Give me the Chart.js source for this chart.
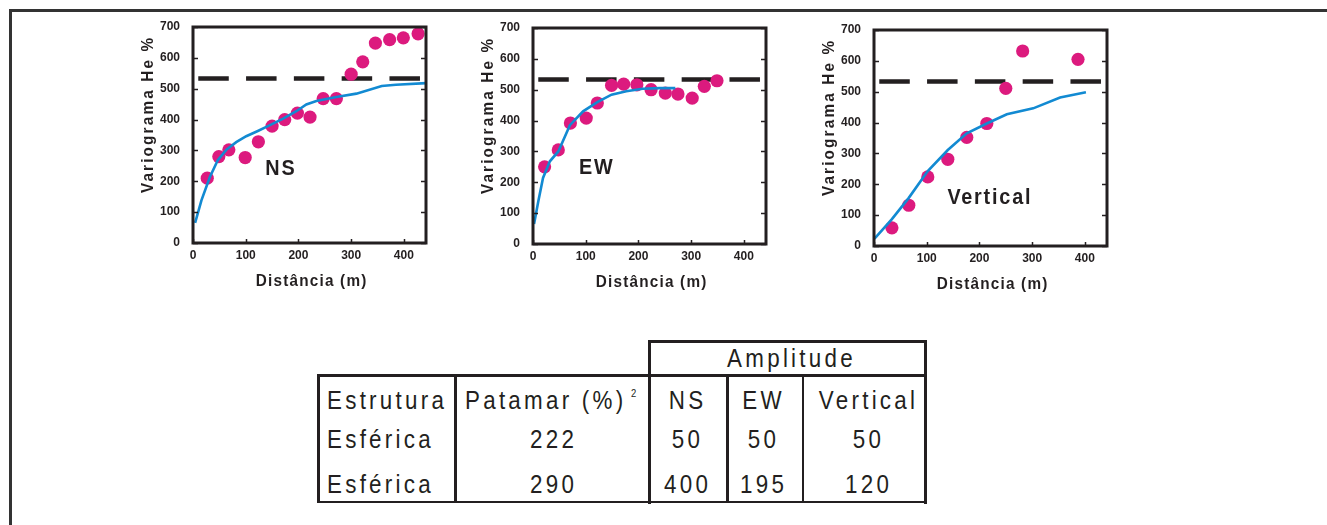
<!DOCTYPE html>
<html lang="pt">
<head>
<meta charset="utf-8">
<title>Variogramas de He</title>
<script src="https://cdn.jsdelivr.net/npm/chart.js@4/dist/chart.umd.min.js"></script>
<style>
  html, body { margin: 0; padding: 0; background: #fff; }
  body { width: 1327px; height: 525px; position: relative; overflow: hidden; }
  canvas { position: absolute; }
  .rule { position: absolute; background: #231f20; }
  .frame { position: absolute; background: #333; }
  .cell {
    position: absolute; font-family: "Liberation Sans", Arial, sans-serif;
    font-size: 26px; line-height: 26px; letter-spacing: 3.8px;
    color: #231f20; white-space: nowrap;
    transform: scaleX(0.86); transform-origin: 0 0;
  }
  .cell.mid { text-align: center; transform-origin: 50% 0; }
  .sup { font-size: 11px; line-height: 11px; letter-spacing: 0; }
</style>
</head>
<body>
<div class="frame" style="left:9px;top:9px;width:1318px;height:2.5px"></div>
<div class="frame" style="left:9px;top:9px;width:2.5px;height:516px"></div>

<canvas id="cNS" width="303" height="287" style="left:133px;top:6px"></canvas>
<canvas id="cEW" width="303" height="287" style="left:473px;top:7px"></canvas>
<canvas id="cV"  width="303" height="287" style="left:814px;top:9px"></canvas>

<div id="table"></div>

<script>
// ---- axis ticks shared by the three variograms ----
const xTickValues = [0, 100, 200, 300, 400];
const yTickValues = [0, 100, 200, 300, 400, 500, 600, 700];
const xMax = 442;
const yMax = 700;

// dashed sill reference
const sillLevel = 533;
const sillStart = 10;
const sillEnd = 431;

// ---- NS direction: experimental points and fitted model ----
const nsLag   = [27, 49, 68, 99, 124, 150, 174, 198, 222, 247, 272, 300, 322, 346, 373, 399, 427];
const nsGamma = [210, 280, 302, 277, 328, 379, 400, 421, 408, 468, 468, 547, 587, 648, 659, 665, 678];
const nsModelLag   = [4, 16, 32, 47, 63, 82, 101, 123, 145, 171, 196, 215, 234, 272, 310, 358, 385, 442];
const nsModelGamma = [65, 138, 214, 268, 302, 327, 346, 363, 381, 403, 427, 449, 460, 473, 484, 509, 513, 518];

// ---- EW direction ----
const ewLag   = [22, 48, 71, 101, 122, 149, 172, 197, 224, 251, 275, 302, 325, 349];
const ewGamma = [250, 305, 392, 408, 457, 514, 518, 516, 500, 489, 486, 473, 511, 529];
const ewModelLag   = [2, 10, 19, 32, 48, 70, 95, 122, 149, 177, 208, 240, 270];
const ewModelGamma = [65, 138, 214, 268, 300, 385, 430, 460, 484, 495, 503, 505, 505];

// ---- Vertical direction ----
const vLag   = [34, 66, 102, 140, 176, 214, 250, 282, 387];
const vGamma = [59, 132, 224, 281, 352, 397, 511, 632, 605];
const vModelLag   = [1, 34, 66, 102, 140, 176, 214, 252, 302, 353, 402];
const vModelGamma = [24, 87, 156, 243, 311, 365, 397, 427, 446, 481, 498];

// ---- structure table ----
const tableGroup = 'Amplitude';
const tableHeaders = ['Estrutura', 'Patamar (%)', 'NS', 'EW', 'Vertical'];
const structureType = ['Esférica', 'Esférica'];
const sillValues = [222, 290];
const rangeNS = [50, 400];
const rangeEW = [50, 195];
const rangeVertical = [50, 120];

const INK = '#231f20';
const DOT = '#dc1a7e';
const MODEL = '#128ad2';
const FONT = '"Liberation Sans", Arial, sans-serif';

const toXY = (xs, ys) => xs.map((x, i) => ({ x, y: ys[i] }));

// narrow, widely tracked text like the rest of the figure
function condensedText(ctx, str, x, y, size, spacing, angle) {
  ctx.save();
  ctx.translate(x, y);
  if (angle) ctx.rotate(angle);
  ctx.scale(0.9, 1);
  ctx.font = 'bold ' + size + 'px ' + FONT;
  ctx.letterSpacing = spacing + 'px';
  ctx.textAlign = 'center';
  ctx.textBaseline = 'middle';
  ctx.fillText(str, spacing / 2, 0);
  ctx.restore();
}

// frame, inward tick marks, axis titles and the direction label
const decorPlugin = {
  id: 'decor',
  afterDraw(chart, args, opts) {
    const { ctx, chartArea: a, scales } = chart;
    const sx = scales.x, sy = scales.y;
    ctx.save();
    ctx.strokeStyle = INK;
    ctx.lineWidth = 1.5;
    ctx.beginPath();
    yTickValues.forEach(v => {
      const py = Math.round(sy.getPixelForValue(v)) + 0.5;
      ctx.moveTo(a.left, py); ctx.lineTo(a.left + 5, py);
      ctx.moveTo(a.right, py); ctx.lineTo(a.right - 5, py);
    });
    xTickValues.forEach(v => {
      const px = Math.round(sx.getPixelForValue(v)) + 0.5;
      ctx.moveTo(px, a.bottom); ctx.lineTo(px, a.bottom - 4);
    });
    ctx.stroke();

    ctx.lineWidth = 3;
    ctx.strokeRect(a.left, a.top, a.right - a.left, a.bottom - a.top);

    ctx.fillStyle = INK;
    condensedText(ctx, 'Distância (m)', a.left + 118, a.bottom + 38, 17, 1.35, 0);
    condensedText(ctx, 'Variograma He %', a.left - 45, a.top + 88.5, 17, 2.4, -Math.PI / 2);
    condensedText(ctx, opts.label, sx.getPixelForValue(opts.at[0]), sy.getPixelForValue(opts.at[1]), 22, 2, 0);
    ctx.restore();
  }
};

function makeVariogram(id, lag, gamma, modelLag, modelGamma, label, labelAt) {
  return new Chart(document.getElementById(id), {
    type: 'scatter',
    data: {
      datasets: [
        {
          label: 'modelo',
          data: toXY(modelLag, modelGamma),
          showLine: true,
          borderColor: MODEL,
          borderWidth: 2.6,
          pointRadius: 0,
          tension: 0,
          fill: false
        },
        {
          label: 'experimental',
          data: toXY(lag, gamma),
          pointRadius: 6.6,
          pointBorderWidth: 0,
          backgroundColor: DOT,
          pointBackgroundColor: DOT
        },
        {
          label: 'patamar',
          data: [{ x: sillStart, y: sillLevel }, { x: sillEnd, y: sillLevel }],
          showLine: true,
          borderColor: INK,
          borderWidth: 4.6,
          borderDash: [30.5, 17.3],
          pointRadius: 0
        }
      ]
    },
    options: {
      responsive: false,
      animation: false,
      devicePixelRatio: 1,
      layout: { padding: { left: 0, top: 21, right: 10, bottom: 0 } },
      plugins: {
        legend: { display: false },
        tooltip: { enabled: false },
        decor: { label, at: labelAt }
      },
      scales: {
        x: {
          type: 'linear', min: 0, max: xMax,
          grid: { display: false, drawTicks: false },
          border: { display: false },
          afterBuildTicks: s => { s.ticks = xTickValues.map(v => ({ value: v })); },
          afterFit: s => { s.height = 50; },
          ticks: { padding: 5, color: INK, font: { family: FONT, size: 12, weight: 'bold' } }
        },
        y: {
          type: 'linear', min: 0, max: yMax,
          grid: { display: false, drawTicks: false },
          border: { display: false },
          afterBuildTicks: s => { s.ticks = yTickValues.map(v => ({ value: v })); },
          afterFit: s => { s.width = 60; },
          ticks: { padding: 13, color: INK, font: { family: FONT, size: 12, weight: 'bold' } }
        }
      }
    },
    plugins: [decorPlugin]
  });
}

makeVariogram('cNS', nsLag, nsGamma, nsModelLag, nsModelGamma, 'NS', [165, 240]);
makeVariogram('cEW', ewLag, ewGamma, ewModelLag, ewModelGamma, 'EW', [119, 247]);
makeVariogram('cV', vLag, vGamma, vModelLag, vModelGamma, 'Vertical', [218, 156]);

// ---- table drawn with positioned HTML ----
(function buildTable() {
  const host = document.getElementById('table');
  const rule = (x, y, w, h) => {
    const d = document.createElement('div');
    d.className = 'rule';
    Object.assign(d.style, { left: x + 'px', top: y + 'px', width: w + 'px', height: h + 'px' });
    host.appendChild(d);
  };
  const T = 2.8;
  const xL = 317.3, xC1 = 454, xC2 = 648.3, xC3 = 726, xC4 = 801.7, xR = 924.3;
  const yG = 340, yTop = 374.3, yBot = 500.7;
  rule(xL, yTop, xR - xL + T, T);           // top of table
  rule(xL, yBot, xR - xL + T, T);           // bottom
  rule(xC2, yG, xR - xC2 + T, T);           // top of group header
  rule(xL, yTop, T, yBot - yTop + T);       // left
  rule(xC1, yTop, T, yBot - yTop + T);
  rule(xC2, yG, T, yBot - yG + T);
  rule(xC3, yTop, T, yBot - yTop + T);
  rule(xC4, yTop, T, yBot - yTop);
  rule(xR, yG, T + 0.4, yBot - yG + T);     // right

  const text = (str, x, top, centered) => {
    const d = document.createElement('div');
    d.className = centered ? 'cell mid' : 'cell';
    d.textContent = str;
    if (centered) {
      Object.assign(d.style, { left: (x - 100) + 'px', width: '200px', paddingLeft: '3.8px' });
    } else {
      d.style.left = x + 'px';
    }
    d.style.top = top + 'px';
    host.appendChild(d);
    return d;
  };
  const rowTop = [387, 426, 470.5];
  const colCenter = [null, 550, 684, 760, 865];

  text(tableGroup, 788, 344.7, true);
  text(tableHeaders[0], 327, rowTop[0]);
  text(tableHeaders[1], 465, rowTop[0]);
  const sup = document.createElement('div');
  sup.className = 'cell sup';
  sup.textContent = '2';
  Object.assign(sup.style, { left: '631px', top: '388px' });
  host.appendChild(sup);
  text(tableHeaders[2], colCenter[2], rowTop[0], true);
  text(tableHeaders[3], colCenter[3], rowTop[0], true);
  text(tableHeaders[4], colCenter[4], rowTop[0], true);

  structureType.forEach((s, i) => {
    const top = rowTop[i + 1];
    text(s, 327, top);
    text(String(sillValues[i]), colCenter[1], top, true);
    text(String(rangeNS[i]), colCenter[2], top, true);
    text(String(rangeEW[i]), colCenter[3], top, true);
    text(String(rangeVertical[i]), colCenter[4], top, true);
  });
})();
</script>
</body>
</html>
